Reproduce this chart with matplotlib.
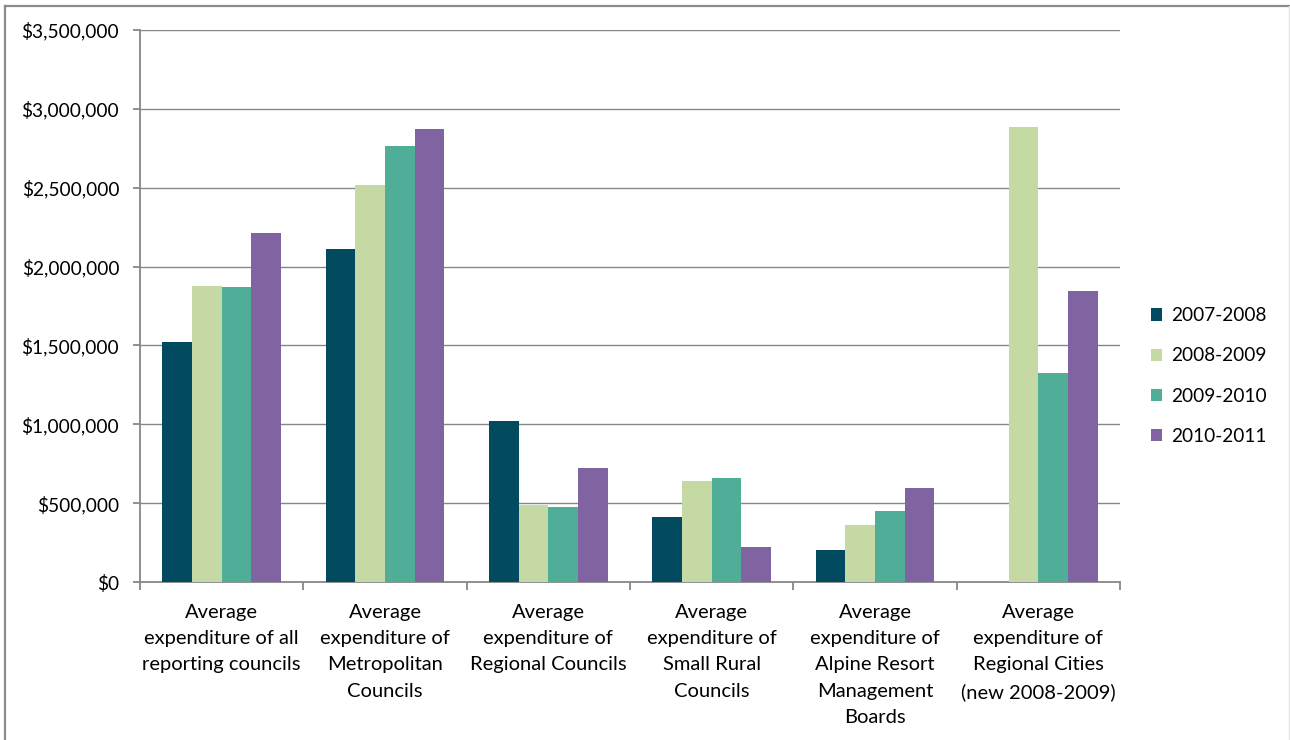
import matplotlib
matplotlib.use("Agg")
import matplotlib.pyplot as plt
import numpy as np
from matplotlib.patches import Patch
from matplotlib.lines import Line2D
from matplotlib.ticker import FuncFormatter, MultipleLocator

plt.rcParams['font.family'] = ['Lato', 'DejaVu Sans']

categories = [
    "Average\nexpenditure of all\nreporting councils",
    "Average\nexpenditure of\nMetropolitan\nCouncils",
    "Average\nexpenditure of\nRegional Councils",
    "Average\nexpenditure of\nSmall Rural\nCouncils",
    "Average\nexpenditure of\nAlpine Resort\nManagement\nBoards",
    "Average\nexpenditure of\nRegional Cities\n(new 2008-2009)",
]
years = ["2007-2008", "2008-2009", "2009-2010", "2010-2011"]
values_2007_2008 = [1520000, 2110000, 1020000, 412000, 200000, 0]
values_2008_2009 = [1878000, 2520000, 488000, 640000, 361000, 2885000]
values_2009_2010 = [1870000, 2764000, 475000, 659000, 450000, 1325000]
values_2010_2011 = [2212000, 2872000, 722000, 222000, 596000, 1845000]
series = [values_2007_2008, values_2008_2009, values_2009_2010, values_2010_2011]
colors = ["#024A60", "#C4D9A3", "#4FAD98", "#8064A2"]

W, H = 1290, 740
fig = plt.figure(figsize=(W / 100, H / 100), dpi=100)
ax = fig.add_axes([140 / W, (H - 582) / H, (1120 - 140) / W, (582 - 30) / H])

n = len(categories)
bar_w = 1 / 5.5
x = np.arange(n)
for i, (vals, c) in enumerate(zip(series, colors)):
    ax.bar(x + (i - 1.5) * bar_w, vals, width=bar_w, color=c, zorder=3)

ax.set_xlim(-0.5, n - 0.5)
ax.set_ylim(0, 3500000)
ax.yaxis.set_major_locator(MultipleLocator(500000))
ax.yaxis.set_major_formatter(FuncFormatter(lambda v, p: "${:,.0f}".format(v)))
grid_c = "#878787"
ax.grid(axis='y', color=grid_c, linewidth=1.0, zorder=0)

for s in ['top', 'right']:
    ax.spines[s].set_visible(False)
for s in ['left', 'bottom']:
    ax.spines[s].set_color(grid_c)
    ax.spines[s].set_linewidth(1.3)

ax.set_xticks(x)
ax.set_xticklabels(categories, fontsize=14.5, linespacing=1.67, va='top')
ax.set_xticks(np.arange(-0.5, n, 1.0), minor=True)
ax.tick_params(axis='x', which='major', length=0, pad=15.5)
ax.tick_params(axis='x', which='minor', length=6, color=grid_c, width=1.3)
ax.tick_params(axis='y', length=5, color=grid_c, width=1.3, pad=10, labelsize=13.8)

handles = [Patch(facecolor=c, edgecolor='none') for c in colors]
fig.legend(handles, years, loc='center left', bbox_to_anchor=(1143 / W, (H - 376) / H),
           frameon=False, fontsize=13.7, handlelength=0.6, handleheight=0.6,
           handletextpad=0.45, labelspacing=1.22, borderaxespad=0)

# outer frame
fig.add_artist(Line2D([4.5 / W, 1289 / W], [1 - 5.5 / H, 1 - 5.5 / H], color="#8a8a8a", lw=1.6, transform=fig.transFigure))
fig.add_artist(Line2D([4.5 / W, 4.5 / W], [0, 1 - 5.5 / H], color="#8a8a8a", lw=1.6, transform=fig.transFigure))
fig.add_artist(Line2D([1289 / W, 1289 / W], [0, 1 - 5.5 / H], color="#e4e4e4", lw=1.0, transform=fig.transFigure))

fig.savefig("out.png", dpi=100, facecolor="white")
